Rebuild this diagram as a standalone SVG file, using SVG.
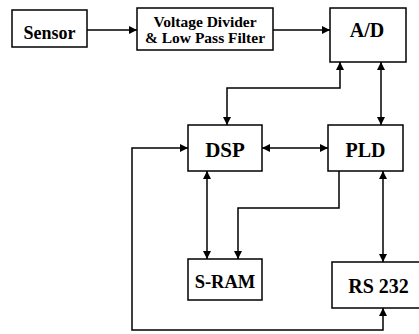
<svg xmlns="http://www.w3.org/2000/svg" width="419" height="334" viewBox="0 0 419 334">
<defs>
<style>
.box{fill:#fff;stroke:#000;stroke-width:1.5}
.lbl{font-family:"Liberation Serif","Times New Roman",serif;font-weight:bold;fill:#000;text-anchor:middle}
.c{fill:none;stroke:#000;stroke-width:1.5}
</style>
<marker id="ah" viewBox="0 0 10 10" refX="10" refY="5" markerWidth="10" markerHeight="8" markerUnits="userSpaceOnUse" orient="auto-start-reverse">
<path d="M0,0 L10,5 L0,10 Z" fill="#000"/>
</marker>
</defs>
<rect width="419" height="334" fill="#fff"/>
<g id="connectors">
<path class="c" d="M87,30 H137" marker-end="url(#ah)"/>
<path class="c" d="M273,30 H330" marker-end="url(#ah)"/>
<path class="c" d="M227,125 V88 H340 V62" marker-start="url(#ah)" marker-end="url(#ah)"/>
<path class="c" d="M381,125 V62" marker-start="url(#ah)" marker-end="url(#ah)"/>
<path class="c" d="M262,148 H328" marker-start="url(#ah)" marker-end="url(#ah)"/>
<path class="c" d="M383,308 V330 H132 V148 H188" marker-start="url(#ah)" marker-end="url(#ah)"/>
<path class="c" d="M207,171 V259" marker-start="url(#ah)" marker-end="url(#ah)"/>
<path class="c" d="M339,171 V208 H238 V259" marker-end="url(#ah)"/>
<path class="c" d="M383,171 V262" marker-start="url(#ah)" marker-end="url(#ah)"/>
</g>
<g id="sensor">
<rect class="box" x="12" y="10" width="75" height="37"/>
<text class="lbl" x="49.5" y="39" font-size="18">Sensor</text>
</g>
<g id="filter">
<rect class="box" x="137" y="8" width="136" height="42"/>
<text class="lbl" x="205" y="27" font-size="15.5">Voltage Divider</text>
<text class="lbl" x="205" y="43" font-size="15.5">&amp; Low Pass Filter</text>
</g>
<g id="ad">
<rect class="box" x="330" y="8" width="76" height="54"/>
<text class="lbl" x="367" y="37" font-size="20">A/D</text>
</g>
<g id="dsp">
<rect class="box" x="188" y="125" width="74" height="46"/>
<text class="lbl" x="225" y="157" font-size="21">DSP</text>
</g>
<g id="pld">
<rect class="box" x="328" y="125" width="75" height="46"/>
<text class="lbl" x="365.5" y="157" font-size="20">PLD</text>
</g>
<g id="sram">
<rect class="box" x="188" y="259" width="74" height="41"/>
<text class="lbl" x="225" y="288" font-size="18.5">S-RAM</text>
</g>
<g id="rs232">
<rect class="box" x="332" y="262" width="90" height="46"/>
<text class="lbl" x="378.5" y="293" font-size="20">RS 232</text>
</g>
</svg>
